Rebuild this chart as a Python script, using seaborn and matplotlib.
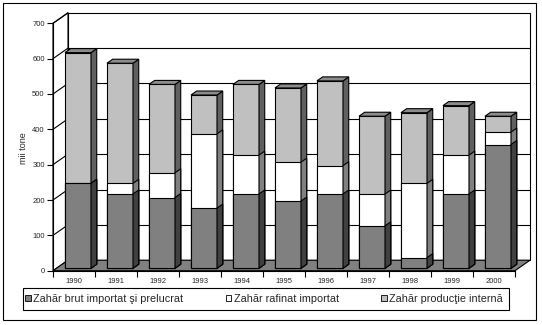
import matplotlib
matplotlib.use("Agg")
import matplotlib.pyplot as plt
from matplotlib.patches import Polygon, Rectangle
import seaborn as sns
import pandas as pd

years = ["1990", "1991", "1992", "1993", "1994", "1995", "1996", "1997", "1998", "1999", "2000"]
brut = [240, 210, 200, 170, 210, 190, 210, 120, 30, 210, 350]
rafinat = [0, 30, 70, 210, 110, 110, 80, 90, 210, 110, 35]
interna = [370, 340, 250, 110, 200, 210, 240, 220, 200, 140, 45]
series_labels = ["Zahăr brut importat şi prelucrat", "Zahăr rafinat importat", "Zahăr producţie internă"]
y_ticks = [0, 100, 200, 300, 400, 500, 600, 700]
y_label = "mii tone"

sns.set_style("white")
plt.rcParams["font.family"] = ["Liberation Sans", "DejaVu Sans"]

df = pd.DataFrame({"year": years, "brut": brut, "rafinat": rafinat, "interna": interna})
df["cum2"] = df["brut"] + df["rafinat"]
df["total"] = df["cum2"] + df["interna"]

W, H = 542, 325
fig = plt.figure(figsize=(W / 100, H / 100), dpi=100)
x0, x1 = 53, 515
yb, yt = 270.7, 23.3
ax = fig.add_axes([x0 / W, 1 - yb / H, (x1 - x0) / W, (yb - yt) / H])
ax.set_facecolor("none")

n = len(years)
xmin, xmax = -0.5, n - 0.5
ymax = y_ticks[-1]
sx = (xmax - xmin) / (x1 - x0)   # data units per pixel (x)
sy = ymax / (yb - yt)            # data units per pixel (y)

# depth offsets in pixels
wall_dx, wall_dy = 15 * sx, 10.5 * sy
front_dx, front_dy = 4 * sx, 2.5 * sy
depth_dx, depth_dy = 5.7 * sx, 4 * sy

LW = 0.8
# floor
ax.add_patch(Polygon([(xmin, 0), (xmax, 0), (xmax + wall_dx, wall_dy), (xmin + wall_dx, wall_dy)],
                     closed=True, facecolor="#808080", edgecolor="black", lw=LW, clip_on=False, zorder=0.5))
# left wall
ax.add_patch(Polygon([(xmin, 0), (xmin, ymax), (xmin + wall_dx, ymax + wall_dy), (xmin + wall_dx, wall_dy)],
                     closed=True, facecolor="white", edgecolor="black", lw=LW, clip_on=False, zorder=0.4))
# back wall
ax.add_patch(Rectangle((xmin + wall_dx, wall_dy), xmax - xmin, ymax, facecolor="white",
                       edgecolor="black", lw=LW, clip_on=False, zorder=0.3))
for v in y_ticks[1:-1]:
    ax.plot([xmin + wall_dx, xmax + wall_dx], [v + wall_dy, v + wall_dy], color="black", lw=LW,
            clip_on=False, zorder=0.35)
for v in y_ticks[1:]:
    ax.plot([xmin, xmin + wall_dx], [v, v + wall_dy], color="black", lw=LW, clip_on=False, zorder=0.45)

layers = [("total", "#c0c0c0", "#606060"), ("cum2", "#ffffff", "#808080"), ("brut", "#808080", "#404040")]
top_color = "#8c8c8c"
z = 2
for i, (col, fc, sc) in enumerate(layers):
    before = len(ax.patches)
    sns.barplot(data=df, x="year", y=col, color=fc, saturation=1, width=0.62, edgecolor="black",
                linewidth=LW, ax=ax, zorder=z)
    new = ax.patches[before:]
    for p in new:
        p.set_x(p.get_x() + front_dx)
        p.set_y(p.get_y() + front_dy)
        p.set_clip_on(False)
        p.set_zorder(z)
        bx, by, bw, bh = p.get_x(), p.get_y(), p.get_width(), p.get_height()
        xr = bx + bw
        ax.add_patch(Polygon([(xr, by), (xr, by + bh), (xr + depth_dx, by + bh + depth_dy), (xr + depth_dx, by + depth_dy)],
                             closed=True, facecolor=sc, edgecolor="black", lw=LW, clip_on=False, zorder=z))
        if i == 0:
            top = by + bh
            ax.add_patch(Polygon([(bx, top), (xr, top), (xr + depth_dx, top + depth_dy), (bx + depth_dx, top + depth_dy)],
                                 closed=True, facecolor=top_color, edgecolor="black", lw=LW, clip_on=False, zorder=z))
    z += 1

ax.set_xlim(xmin, xmax)
ax.set_ylim(0, ymax)
for s in ["top", "right"]:
    ax.spines[s].set_visible(False)
for s in ["left", "bottom"]:
    ax.spines[s].set_color("black")
    ax.spines[s].set_linewidth(LW)
    ax.spines[s].set_zorder(10)

FS = 5.5
ax.set_yticks(y_ticks)
ax.set_yticklabels([str(v) for v in y_ticks], fontsize=FS)
ax.tick_params(axis="y", direction="out", length=4, width=LW, color="black", pad=2, left=True)
ax.set_xticks([k + 0.5 for k in range(-1, n)])
ax.set_xticklabels([])
ax.set_xticks(range(n), minor=True)
ax.set_xticklabels(years, minor=True, fontsize=FS)
ax.tick_params(axis="x", which="major", direction="out", length=4, width=LW, color="black", bottom=True)
ax.tick_params(axis="x", which="minor", length=0, pad=5.5)
ax.set_xlabel("")
ax.set_ylabel("")
ax.grid(False)

fig.text(23 / W, 1 - 148 / H, y_label, rotation=90, ha="center", va="center", fontsize=6.5)

# outer border
fig.add_artist(Rectangle((3 / W, 1 - 320 / H), 533 / W, 317 / H, transform=fig.transFigure,
                         facecolor="none", edgecolor="black", lw=LW))
# legend frame
fig.add_artist(Rectangle((23 / W, 1 - 310 / H), 486 / W, 22 / H, transform=fig.transFigure,
                         facecolor="white", edgecolor="black", lw=LW))

handles = [Rectangle((0, 0), 1, 1, facecolor=c, edgecolor="black", lw=0.6) for c in ["#808080", "#ffffff", "#c0c0c0"]]
leg = fig.legend(handles, series_labels, loc="center left", bbox_to_anchor=(25 / W, 1 - 299 / H),
                 ncol=3, frameon=False, handlelength=0.55, handleheight=0.55, handletextpad=0.2,
                 borderpad=0, fontsize=7.8, borderaxespad=0, columnspacing=3.9)

fig.savefig("out.png", dpi=100)
